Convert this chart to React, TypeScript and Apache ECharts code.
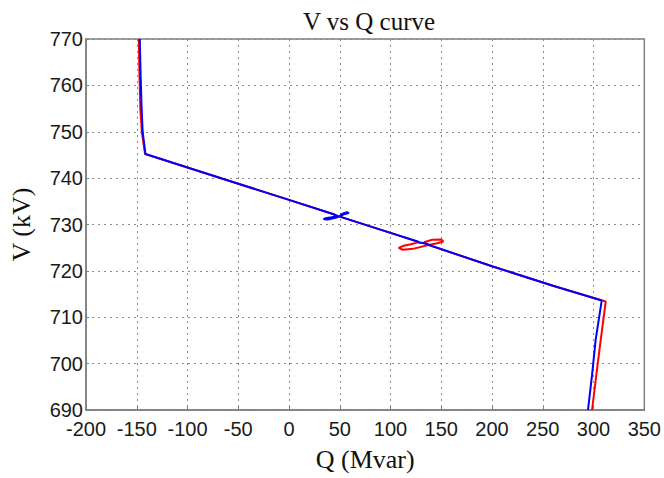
import React, { useEffect, useRef } from "react";
import * as echarts from "echarts";

const title = "V vs Q curve";
const xName = "Q (Mvar)";
const yName = "V (kV)";
const xMin = -200, xMax = 350, xStep = 50;
const yMin = 690, yMax = 770, yStep = 10;

// Blue trace [Q, V]
const blueQ = [-147, -146.2, -145.2, -144.2, -141.4, -60, 0, 44, 48, 42, 36, 34, 38, 46, 54, 59, 57, 52, 50, 90, 126, 130, 127, 132, 200, 260, 308, 302, 298.5, 294.5];
const blueV = [770, 762, 755, 750, 745.2, 739.5, 735.3, 732.2, 731.85, 731.55, 731.35, 731.15, 731.05, 731.45, 732.2, 732.45, 732.65, 732.3, 731.7, 728.9, 726.4, 726.0, 726.15, 726.0, 721.0, 716.8, 713.6, 705, 697.5, 690];

// Red trace [Q, V]
const redQ = [-148, -147.3, -146.5, -145, -141.8, -60, 0, 44, 48, 52, 50, 90, 128, 120, 112, 108, 112, 122, 135, 146, 152, 150, 141, 133, 140, 200, 260, 312, 307, 302.7, 298.5];
const redV = [770, 762, 755, 750, 745.2, 739.5, 735.3, 732.2, 731.6, 732.15, 731.7, 728.9, 726.2, 725.75, 725.35, 724.95, 724.55, 724.75, 725.45, 725.95, 726.35, 726.75, 726.7, 726.2, 725.4, 721.0, 716.8, 713.4, 705, 697.5, 690];

const pair = (q: number[], v: number[]) => q.map((x, i) => [x, v[i]]);

export default function App() {
  const ref = useRef<HTMLDivElement>(null);
  useEffect(() => {
    if (!ref.current) return;
    const chart = echarts.init(ref.current, undefined, { renderer: "svg" });
    const tickFont = { fontFamily: "Liberation Sans, Arial, sans-serif", fontSize: 20, color: "#1a1a1a" };
    chart.setOption({
      animation: false,
      backgroundColor: "#ffffff",
      title: {
        text: title,
        left: 364,
        textAlign: "center",
        top: 4,
        textStyle: { fontFamily: "Liberation Serif, Times New Roman, serif", fontSize: 25, fontWeight: "normal", color: "#111" },
      },
      grid: { left: 83, right: 18, top: 39, bottom: 68, show: true, borderColor: "#7f7f7f", borderWidth: 1.5, backgroundColor: "transparent" },
      xAxis: {
        type: "value",
        min: xMin,
        max: xMax,
        interval: xStep,
        name: xName,
        nameLocation: "middle",
        nameGap: 36,
        nameTextStyle: { fontFamily: "Liberation Serif, Times New Roman, serif", fontSize: 26, color: "#111" },
        axisLine: { show: true, onZero: false, lineStyle: { color: "#7f7f7f", width: 1.5 } },
        axisTick: { show: true, inside: true, length: 3, lineStyle: { color: "#7f7f7f" } },
        axisLabel: { ...tickFont, margin: 9 },
        splitLine: { show: true, lineStyle: { color: "#8a8a8a", type: [2, 4], width: 1 } },
      },
      yAxis: {
        type: "value",
        min: yMin,
        max: yMax,
        interval: yStep,
        name: yName,
        nameLocation: "middle",
        nameGap: 52,
        nameTextStyle: { fontFamily: "Liberation Serif, Times New Roman, serif", fontSize: 26, color: "#111" },
        axisLine: { show: true, onZero: false, lineStyle: { color: "#7f7f7f", width: 1.5 } },
        axisTick: { show: true, inside: true, length: 3, lineStyle: { color: "#7f7f7f" } },
        axisLabel: { ...tickFont, margin: 3 },
        splitLine: { show: true, lineStyle: { color: "#8a8a8a", type: [2, 4], width: 1 } },
      },
      series: [
        {
          type: "line",
          name: "red",
          data: pair(redQ, redV),
          showSymbol: false,
          symbol: "none",
          lineStyle: { color: "#ff0000", width: 2 },
          z: 2,
        },
        {
          type: "line",
          name: "blue",
          data: pair(blueQ, blueV),
          showSymbol: false,
          symbol: "none",
          lineStyle: { color: "#0000ff", width: 2 },
          z: 3,
        },
      ],
    });
    return () => chart.dispose();
  }, []);
  return <div ref={ref} style={{ width: 664, height: 478, position: "absolute", left: 0, top: 0 }} />;
}
